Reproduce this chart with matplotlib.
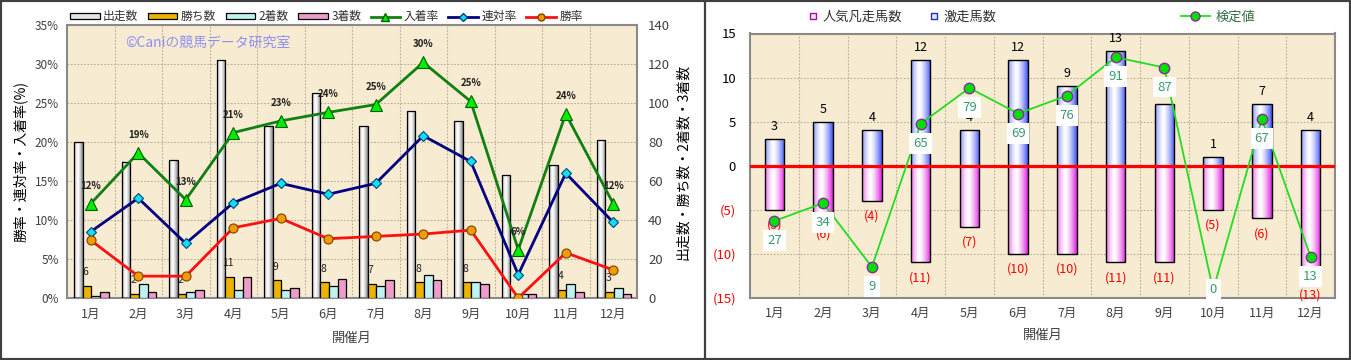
import numpy as np
import matplotlib
matplotlib.use('Agg')
import matplotlib.pyplot as plt
from matplotlib.colors import to_rgb
from matplotlib.lines import Line2D
from matplotlib.patches import Rectangle
from matplotlib.ticker import MultipleLocator, FixedLocator

plt.rcParams['font.family'] = ['Noto Sans CJK JP', 'DejaVu Sans']

# ---------------- data ----------------
months = ['1月', '2月', '3月', '4月', '5月', '6月', '7月', '8月', '9月', '10月', '11月', '12月']

starts = [80, 70, 71, 122, 88, 105, 88, 96, 91, 63, 68, 81]
wins = [6, 2, 2, 11, 9, 8, 7, 8, 8, 0, 4, 3]
seconds = [1, 7, 3, 4, 4, 6, 6, 12, 8, 2, 7, 5]
thirds = [3, 3, 4, 11, 5, 10, 9, 9, 7, 2, 3, 2]

win_rate = [7.4, 2.8, 2.8, 9.0, 10.2, 7.6, 7.9, 8.2, 8.7, 0.0, 5.8, 3.6]
rentai_rate = [8.5, 12.8, 7.0, 12.2, 14.7, 13.3, 14.7, 20.8, 17.5, 3.0, 16.0, 9.7]
place_rate = [12.1, 18.6, 12.6, 21.2, 22.7, 23.8, 24.8, 30.2, 25.2, 6.2, 23.6, 12.1]
place_labels = ['12%', '19%', '13%', '21%', '23%', '24%', '25%', '30%', '25%', '6%', '24%', '12%']

surge_counts = [3, 5, 4, 12, 4, 12, 9, 13, 7, 1, 7, 4]
flop_counts = [5, 6, 4, 11, 7, 10, 10, 11, 11, 5, 6, 13]
test_values = [27, 34, 9, 65, 79, 69, 76, 91, 87, 0, 67, 13]

# ---------------- style ----------------
BG = '#f7ebd2'
GRID = '#b9ad98'
SPINE = '#8a8a8a'
TICKC = '#404040'


def cylinder(ax, bars, edge_color, zorder):
    t = np.linspace(0, 1, 80)
    prof = np.clip(np.abs(t - 0.42) / 0.58, 0, 1) ** 1.4
    e = np.array(to_rgb(edge_color))
    img = (1 - prof)[None, :, None] * np.ones((1, 80, 3)) + prof[None, :, None] * e[None, None, :]
    for b in bars:
        x0, y0 = b.get_x(), b.get_y()
        w, h = b.get_width(), b.get_height()
        if h == 0:
            continue
        im = ax.imshow(img, extent=(x0, x0 + w, min(y0, y0 + h), max(y0, y0 + h)),
                       aspect='auto', zorder=zorder, interpolation='bilinear')
        im.set_clip_path(b)


fig = plt.figure(figsize=(13.51, 3.60), dpi=100)
W, H = 1351.0, 360.0

x = np.arange(len(months))

# ================= LEFT CHART =================
axL = fig.add_axes([67 / W, 1 - 298 / H, (637 - 67) / W, (298 - 25) / H])
axL.set_facecolor(BG)
axP = axL.twinx()

bw = 0.18
offs = [(k - 1.5) * bw + 0.015 for k in range(4)]
b_st = axL.bar(x + offs[0], starts, bw, facecolor='none', edgecolor='black', lw=0.9, zorder=3)
cylinder(axL, b_st, '#7a7a7a', 2.5)
axL.bar(x + offs[1], wins, bw, color='#ecb400', edgecolor='black', lw=0.9, zorder=3)
axL.bar(x + offs[2], seconds, bw, color='#bff2f2', edgecolor='black', lw=0.9, zorder=3)
axL.bar(x + offs[3], thirds, bw, color='#ee9ccc', edgecolor='black', lw=0.9, zorder=3)

for i, v in enumerate(wins):
    if v > 0:
        axL.annotate(str(v), (x[i] + offs[1] - 0.03, v), xytext=(0, 10), textcoords='offset points',
                     ha='center', va='center', fontsize=7.5, color='#202020', zorder=6)

axL.set_xlim(-0.5, len(months) - 0.5)
axL.set_ylim(0, 140)
axL.yaxis.set_major_locator(MultipleLocator(20))
axL.xaxis.set_minor_locator(FixedLocator(np.arange(0.5, len(months) - 0.5, 1)))
axL.grid(True, axis='y', which='major', color=GRID, ls=(0, (1.5, 1.5)), lw=0.8)
axL.grid(True, axis='x', which='minor', color=GRID, ls=(0, (1.5, 1.5)), lw=0.8)
axL.set_axisbelow(True)
axL.set_xticks(x)
axL.set_xticklabels(months, fontsize=9, color=TICKC)
axL.tick_params(axis='x', which='both', length=0, pad=7)
axL.yaxis.tick_right()
axL.yaxis.set_label_position('right')
axL.tick_params(axis='y', length=0, pad=8, labelsize=9.5, colors=TICKC,
                left=False, labelleft=False, right=True, labelright=True)
axL.set_ylabel('出走数・勝ち数・2着数・3着数', fontsize=10, rotation=90, labelpad=4)
axL.set_xlabel('開催月', fontsize=9.5, color=TICKC, labelpad=8)
for s in axL.spines.values():
    s.set_color(SPINE)
    s.set_linewidth(1.5)

axP.yaxis.tick_left()
axP.yaxis.set_label_position('left')
axP.set_ylim(0, 35)
axP.yaxis.set_major_locator(MultipleLocator(5))
axP.yaxis.set_major_formatter(lambda v, p: f'{v:.0f}%')
axP.tick_params(axis='y', length=0, pad=6, labelsize=8.5, colors=TICKC,
                right=False, labelright=False, left=True, labelleft=True)
axP.set_ylabel('勝率・連対率・入着率(%)', fontsize=10, labelpad=5)
for s in axP.spines.values():
    s.set_visible(False)

axP.plot(x, place_rate, color='#108010', lw=2, marker='^', ms=8,
         mfc='#00ee00', mec='#006000', mew=0.8, zorder=5)
axP.plot(x, rentai_rate, color='#000080', lw=2, marker='D', ms=5,
         mfc='#10e0f0', mec='#004080', mew=0.8, zorder=5)
axP.plot(x, win_rate, color='#ff1010', lw=2, marker='o', ms=6.5,
         mfc='#f59a00', mec='#7a4000', mew=0.8, zorder=5)
for i, v in enumerate(place_rate):
    axP.annotate(place_labels[i], (x[i], v), xytext=(0, 13), textcoords='offset points',
                 ha='center', va='center', fontsize=7, fontweight='bold', color='#202020', zorder=6)

axP.text(0.102, 0.935, '©Caniの競馬データ研究室', transform=axP.transAxes, fontsize=10,
         color='#8f8ff2', ha='left', va='center')

leg_handles = [
    Rectangle((0, 0), 1, 1, facecolor='#e4e4e4', edgecolor='black', lw=0.9),
    Rectangle((0, 0), 1, 1, facecolor='#ecb400', edgecolor='black', lw=0.9),
    Rectangle((0, 0), 1, 1, facecolor='#bff2f2', edgecolor='black', lw=0.9),
    Rectangle((0, 0), 1, 1, facecolor='#ee9ccc', edgecolor='black', lw=0.9),
    Line2D([], [], color='#108010', lw=2, marker='^', ms=6, mfc='#00ee00', mec='#006000'),
    Line2D([], [], color='#000080', lw=2, marker='D', ms=4, mfc='#10e0f0', mec='#004080'),
    Line2D([], [], color='#ff1010', lw=2, marker='o', ms=5, mfc='#f59a00', mec='#7a4000'),
]
leg_labels = ['出走数', '勝ち数', '2着数', '3着数', '入着率', '連対率', '勝率']
axP.legend(leg_handles, leg_labels, loc='center', bbox_to_anchor=(0.455, 1.03), ncol=7,
           frameon=False, fontsize=8.5, handlelength=2.5, handleheight=0.5,
           columnspacing=0.8, handletextpad=0.3, labelcolor='#303030')

# ================= RIGHT CHART =================
axR = fig.add_axes([750 / W, 1 - 297.7 / H, (1335 - 750) / W, (297.7 - 33.5) / H])
axR.set_facecolor(BG)
pos_bars = axR.bar(x, surge_counts, 0.4, facecolor='none', edgecolor='black', lw=1.0, zorder=3)
neg_bars = axR.bar(x, [-v for v in flop_counts], 0.4, facecolor='none', edgecolor='black', lw=1.0, zorder=3)
cylinder(axR, pos_bars, '#4055f5', 2.5)
cylinder(axR, neg_bars, '#e020e0', 2.5)
axR.axhline(0, color='#ff0000', lw=2.3, zorder=4)

for i, v in enumerate(surge_counts):
    axR.annotate(str(v), (x[i], v), xytext=(0, 9), textcoords='offset points', ha='center',
                 va='center', fontsize=9, color='black', zorder=4)
for i, v in enumerate(flop_counts):
    axR.annotate(f'({v})', (x[i], -v), xytext=(0, -11), textcoords='offset points', ha='center',
                 va='center', fontsize=9, color='#ff0000', zorder=4)

axR.set_xlim(-0.5, len(months) - 0.5)
axR.set_ylim(-15, 15)
yt = list(range(-15, 16, 5))
axR.set_yticks(yt)
axR.set_yticklabels([f'({-v})' if v < 0 else str(v) for v in yt])
for lab, v in zip(axR.get_yticklabels(), yt):
    lab.set_color('#ff0000' if v < 0 else 'black')
axR.xaxis.set_minor_locator(FixedLocator(np.arange(0.5, len(months) - 0.5, 1)))
axR.grid(True, axis='y', which='major', color=GRID, ls=(0, (1.5, 1.5)), lw=0.8)
axR.grid(True, axis='x', which='minor', color=GRID, ls=(0, (1.5, 1.5)), lw=0.8)
axR.set_axisbelow(True)
axR.set_xticks(x)
axR.set_xticklabels(months, fontsize=9, color=TICKC)
axR.tick_params(axis='x', which='both', length=0, pad=7)
axR.tick_params(axis='y', length=0, pad=10, labelsize=9.5)
axR.set_xlabel('開催月', fontsize=9.5, color=TICKC, labelpad=6)
for s in axR.spines.values():
    s.set_color(SPINE)
    s.set_linewidth(1.5)

axT = axR.twinx()
axT.set_ylim(-3, 100.3)
axT.set_yticks([])
for s in axT.spines.values():
    s.set_visible(False)
axT.plot(x, test_values, color='#22dd22', lw=1.3, marker='o', ms=7.5, mfc='#00e000',
         mec='#8a2c9a', mew=1.0, zorder=5)
px_per_unit = (297.7 - 33.5) / 103.3
for i, v in enumerate(test_values):
    above = (v + 3) * px_per_unit
    off_px = min(19.5, above - 8)
    axT.annotate(str(v), (x[i], v), xytext=(0, -off_px / 1.389), textcoords='offset points',
                 ha='center', va='center', fontsize=9.5, color='#3a9a6e', zorder=6,
                 bbox=dict(boxstyle='square,pad=0.3', fc='white', ec='none'))

legR1 = axT.legend([Line2D([], [], ls='none', marker='s', ms=5, mfc='#ffe8ff', mec='#b000b0'),
                    Line2D([], [], ls='none', marker='s', ms=5, mfc='#e8ecff', mec='#2030c0')],
                   ['人気凡走馬数', '激走馬数'], loc='center', bbox_to_anchor=(0.26, 1.063), ncol=2,
                   frameon=False, fontsize=9.5, handlelength=0.8, handletextpad=0.3,
                   columnspacing=2.0, labelcolor='#303030')
axT.add_artist(legR1)
axT.legend([Line2D([], [], color='#22dd22', lw=1.3, marker='o', ms=6.5, mfc='#00e000', mec='#8a2c9a')],
           ['検定値'], loc='center', bbox_to_anchor=(0.8, 1.063), frameon=False, fontsize=9.5,
           handlelength=2.2, handletextpad=0.4, labelcolor='#2f6f3f')

# ---------------- panel borders ----------------
bc = '#404040'
fig.add_artist(Line2D([0, 1], [1, 1], transform=fig.transFigure, color=bc, lw=3))
fig.add_artist(Line2D([0, 1], [0, 0], transform=fig.transFigure, color=bc, lw=3))
fig.add_artist(Line2D([0, 0], [0, 1], transform=fig.transFigure, color=bc, lw=3))
fig.add_artist(Line2D([1, 1], [0, 1], transform=fig.transFigure, color=bc, lw=3))
fig.add_artist(Line2D([705 / W, 705 / W], [0, 1], transform=fig.transFigure, color=bc, lw=1.6))

fig.savefig('out.png', dpi=100, facecolor='white')
